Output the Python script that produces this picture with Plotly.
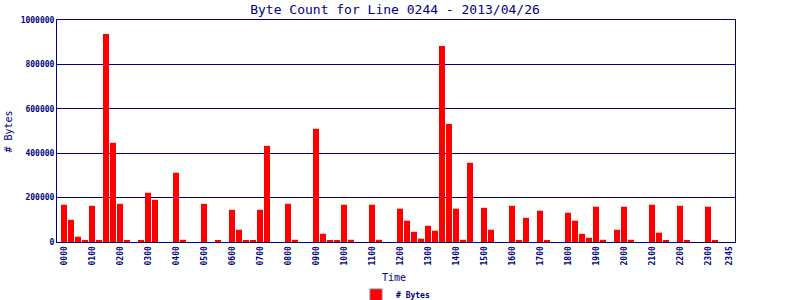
import plotly.graph_objects as go

# 15-minute time slots
categories = [f"{h:02d}{m:02d}" for h in range(24) for m in (0, 15, 30, 45)]

byte_counts = [
    168000, 100000, 24000, 6000, 163000, 6000, 937000, 447000,
    172000, 6000, 0, 6000, 222000, 190000, 0, 0,
    312000, 10000, 0, 0, 172000, 0, 6000, 0,
    145000, 55000, 6000, 6000, 145000, 433000, 0, 0,
    172000, 10000, 0, 0, 510000, 37000, 6000, 6000,
    168000, 10000, 0, 0, 168000, 10000, 0, 0,
    150000, 96000, 46000, 15000, 73000, 51000, 883000, 532000,
    150000, 10000, 357000, 0, 154000, 55000, 0, 0,
    163000, 6000, 109000, 0, 141000, 6000, 0, 0,
    132000, 96000, 37000, 19000, 159000, 10000, 0, 55000,
    159000, 10000, 0, 0, 168000, 42000, 6000, 0,
    163000, 6000, 0, 0, 159000, 6000, 0, 0,
]

tick_labels = ["0000", "0100", "0200", "0300", "0400", "0500", "0600", "0700",
               "0800", "0900", "1000", "1100", "1200", "1300", "1400", "1500",
               "1600", "1700", "1800", "1900", "2000", "2100", "2200", "2300", "2345"]

y_ticks = [0, 200000, 400000, 600000, 800000, 1000000]

NAVY = "#000080"
MONO = "DejaVu Sans Mono"

fig = go.Figure()
fig.add_trace(go.Bar(
    x=categories, y=byte_counts, name="# Bytes",
    marker=dict(color="#ff0000", line=dict(width=0)),
    width=0.857, showlegend=False,
))
# legend entry (red swatch with grey outline)
fig.add_trace(go.Bar(
    x=[None], y=[None], name="# Bytes",
    marker=dict(color="#ff0000", line=dict(color="#808080", width=1)),
    showlegend=True,
))

fig.update_layout(
    width=800, height=300,
    margin=dict(l=57, r=65, t=20, b=58, autoexpand=False),
    paper_bgcolor="white", plot_bgcolor="white",
    title=dict(text="Byte Count for Line 0244 - 2013/04/26",
               x=395 / 800, xanchor="center", y=1 - 9 / 300, yanchor="middle",
               font=dict(family=MONO, size=13, color=NAVY)),
    showlegend=True,
    legend=dict(orientation="h", xref="container", yref="container",
                x=356 / 800, xanchor="left",
                y=(300 - 295) / 300, yanchor="middle",
                font=dict(family=MONO, size=8, color=NAVY, weight="bold"),
                bgcolor="rgba(0,0,0,0)", borderwidth=0,
                itemwidth=30),
    bargap=0.14,
    annotations=[
        dict(text="Time", xref="paper", yref="paper",
             x=(394 - 57) / 678, y=(242 - 277) / 222,
             xanchor="center", yanchor="middle", showarrow=False,
             font=dict(family=MONO, size=10, color=NAVY)),
        dict(text="# Bytes", xref="paper", yref="paper",
             x=(7.5 - 57) / 678, y=(242 - 132) / 222, textangle=-90,
             xanchor="center", yanchor="middle", showarrow=False,
             font=dict(family=MONO, size=10, color=NAVY)),
    ],
)

fig.update_xaxes(
    type="category", range=[-1.0, 95.86], automargin=False,
    tickmode="array", tickvals=[categories[i] for i in range(0, 96, 4)] + [categories[95]],
    ticktext=tick_labels, tickangle=-90,
    tickfont=dict(family=MONO, size=8, color=NAVY, weight="bold"),
    showgrid=False, showline=True, linecolor=NAVY, linewidth=1, mirror=True,
    ticks="", zeroline=False,
)
fig.update_yaxes(
    range=[0, 1000000], tickvals=y_ticks, tickformat="d", automargin=False,
    tickfont=dict(family=MONO, size=8, color=NAVY, weight="bold"),
    showgrid=True, gridcolor=NAVY, gridwidth=1,
    showline=True, linecolor=NAVY, linewidth=1, mirror=True,
    ticks="", zeroline=False,
)

fig.write_html("out.html")
